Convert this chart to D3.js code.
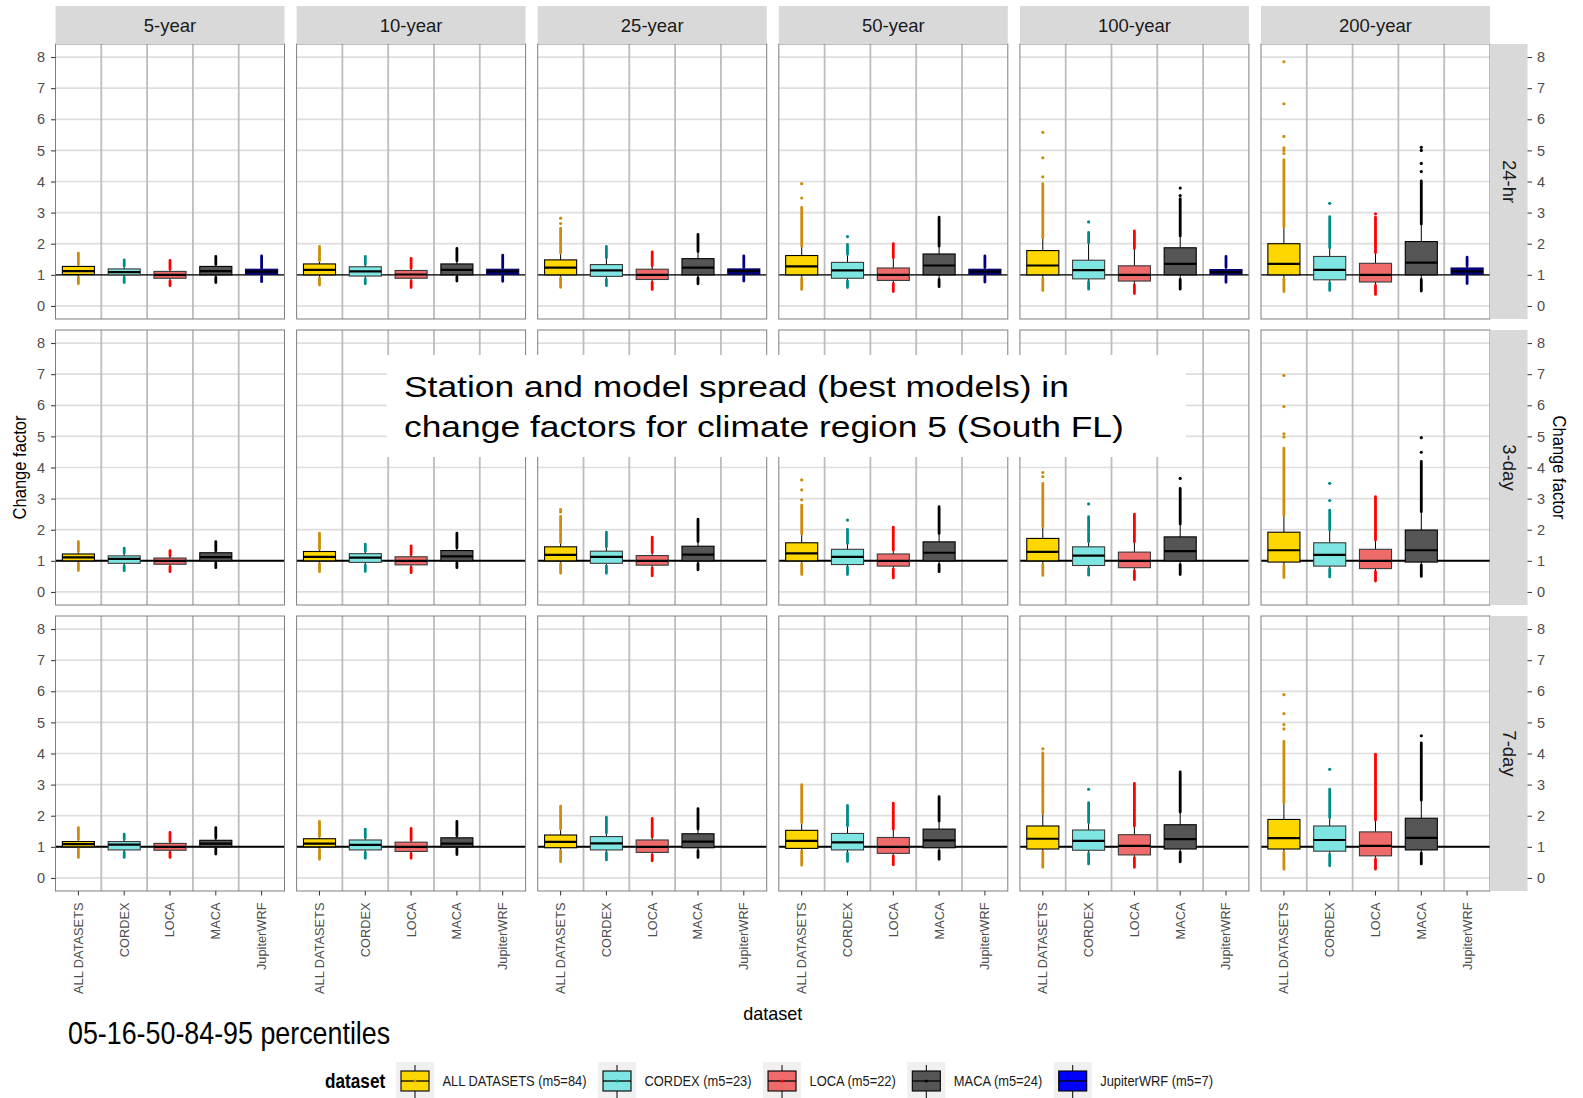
<!DOCTYPE html>
<html>
<head>
<meta charset="utf-8">
<script src="https://cdn.jsdelivr.net/npm/d3@7"></script>
<style>
  body { margin: 0; background: #fff; }
</style>
</head>
<body>
<div id="chart"></div>
<script>
// facets and categories
const periods = ["5-year", "10-year", "25-year", "50-year", "100-year", "200-year"];
const durations = ["24-hr", "3-day", "7-day"];
const datasets = ["ALL DATASETS", "CORDEX", "LOCA", "MACA", "JupiterWRF"];
const legendLabels = ["ALL DATASETS (m5=84)", "CORDEX (m5=23)", "LOCA (m5=22)", "MACA (m5=24)", "JupiterWRF (m5=7)"];
const yTicks = [0, 1, 2, 3, 4, 5, 6, 7, 8];

const boxFills = ["#FFD700", "#7EE5E3", "#EF6B6B", "#555555", "#00008B"];
const keyFills = ["#FFD700", "#7EE5E3", "#EF6B6B", "#555555", "#0000FF"];
const pointCols = ["#CD8C0C", "#008B8B", "#FF0000", "#000000", "#000080"];
const edgeCols = ["#000000", "#3a3a3a", "#3a3a3a", "#000000", "#000060"];

// period, dataset, min, p05, p16, p50, p84, p95, top of dense outlier run
const stats24hr = [
  ["5-year", "ALL DATASETS", 0.71, 0.92, 1.01, 1.12, 1.27, 1.34, 1.70],
  ["5-year", "CORDEX", 0.75, 0.92, 1.00, 1.09, 1.19, 1.28, 1.48],
  ["5-year", "LOCA", 0.65, 0.80, 0.89, 1.00, 1.11, 1.18, 1.46],
  ["5-year", "MACA", 0.75, 0.92, 1.00, 1.12, 1.27, 1.33, 1.59],
  ["5-year", "JupiterWRF", 0.78, 0.95, 1.02, 1.10, 1.18, 1.22, 1.61],
  ["10-year", "ALL DATASETS", 0.67, 0.90, 1.00, 1.16, 1.35, 1.45, 1.91],
  ["10-year", "CORDEX", 0.71, 0.86, 0.96, 1.11, 1.26, 1.34, 1.59],
  ["10-year", "LOCA", 0.59, 0.80, 0.89, 1.01, 1.14, 1.22, 1.53],
  ["10-year", "MACA", 0.80, 0.93, 1.00, 1.16, 1.35, 1.45, 1.85],
  ["10-year", "JupiterWRF", 0.79, 0.95, 1.02, 1.11, 1.18, 1.23, 1.63],
  ["25-year", "ALL DATASETS", 0.60, 0.90, 1.00, 1.23, 1.48, 1.70, 2.50],
  ["25-year", "CORDEX", 0.65, 0.85, 0.95, 1.14, 1.33, 1.55, 1.91],
  ["25-year", "LOCA", 0.53, 0.76, 0.85, 1.00, 1.18, 1.30, 1.74],
  ["25-year", "MACA", 0.71, 0.90, 1.00, 1.23, 1.52, 1.75, 2.30],
  ["25-year", "JupiterWRF", 0.80, 0.95, 1.02, 1.12, 1.19, 1.24, 1.61],
  ["50-year", "ALL DATASETS", 0.53, 0.89, 1.00, 1.27, 1.62, 1.92, 3.17],
  ["50-year", "CORDEX", 0.59, 0.80, 0.89, 1.14, 1.40, 1.65, 1.98],
  ["50-year", "LOCA", 0.46, 0.72, 0.82, 1.00, 1.22, 1.55, 2.00],
  ["50-year", "MACA", 0.62, 0.85, 1.00, 1.30, 1.67, 1.92, 2.85],
  ["50-year", "JupiterWRF", 0.77, 0.95, 1.02, 1.10, 1.18, 1.24, 1.61],
  ["100-year", "ALL DATASETS", 0.50, 0.88, 1.00, 1.30, 1.78, 2.20, 3.93],
  ["100-year", "CORDEX", 0.54, 0.78, 0.87, 1.15, 1.47, 2.03, 2.36],
  ["100-year", "LOCA", 0.40, 0.68, 0.80, 1.00, 1.29, 1.85, 2.41],
  ["100-year", "MACA", 0.54, 0.85, 1.00, 1.35, 1.87, 2.25, 3.45],
  ["100-year", "JupiterWRF", 0.76, 0.95, 1.02, 1.09, 1.17, 1.24, 1.59],
  ["200-year", "ALL DATASETS", 0.46, 0.88, 1.00, 1.35, 2.00, 2.54, 4.70],
  ["200-year", "CORDEX", 0.50, 0.74, 0.84, 1.16, 1.59, 1.87, 2.87],
  ["200-year", "LOCA", 0.37, 0.66, 0.77, 1.00, 1.37, 1.71, 2.85],
  ["200-year", "MACA", 0.48, 0.85, 1.00, 1.39, 2.07, 2.63, 4.02],
  ["200-year", "JupiterWRF", 0.72, 0.95, 1.02, 1.11, 1.22, 1.28, 1.57]
];

const stats3day = [
  ["5-year", "ALL DATASETS", 0.69, 0.92, 1.00, 1.11, 1.22, 1.30, 1.62],
  ["5-year", "CORDEX", 0.68, 0.84, 0.92, 1.06, 1.16, 1.24, 1.41],
  ["5-year", "LOCA", 0.65, 0.81, 0.89, 1.00, 1.09, 1.16, 1.33],
  ["5-year", "MACA", 0.78, 0.93, 1.00, 1.12, 1.26, 1.32, 1.62],
  ["10-year", "ALL DATASETS", 0.65, 0.91, 1.00, 1.13, 1.30, 1.38, 1.89],
  ["10-year", "CORDEX", 0.66, 0.86, 0.95, 1.10, 1.23, 1.31, 1.54],
  ["10-year", "LOCA", 0.62, 0.79, 0.87, 1.00, 1.13, 1.20, 1.48],
  ["10-year", "MACA", 0.78, 0.93, 1.00, 1.14, 1.33, 1.42, 1.89],
  ["25-year", "ALL DATASETS", 0.60, 0.90, 1.00, 1.19, 1.45, 1.59, 2.43],
  ["25-year", "CORDEX", 0.60, 0.83, 0.92, 1.13, 1.31, 1.45, 1.92],
  ["25-year", "LOCA", 0.52, 0.77, 0.86, 1.00, 1.17, 1.27, 1.76],
  ["25-year", "MACA", 0.71, 0.91, 1.00, 1.20, 1.47, 1.62, 2.34],
  ["50-year", "ALL DATASETS", 0.56, 0.90, 1.00, 1.24, 1.58, 1.86, 2.79],
  ["50-year", "CORDEX", 0.56, 0.80, 0.88, 1.13, 1.37, 1.56, 2.01],
  ["50-year", "LOCA", 0.45, 0.73, 0.83, 1.00, 1.22, 1.34, 2.08],
  ["50-year", "MACA", 0.65, 0.88, 1.00, 1.26, 1.61, 1.88, 2.74],
  ["100-year", "ALL DATASETS", 0.53, 0.88, 1.00, 1.29, 1.72, 2.10, 3.49],
  ["100-year", "CORDEX", 0.54, 0.76, 0.85, 1.17, 1.45, 1.61, 2.42],
  ["100-year", "LOCA", 0.40, 0.68, 0.78, 1.00, 1.28, 1.61, 2.50],
  ["100-year", "MACA", 0.56, 0.88, 1.00, 1.31, 1.77, 2.18, 3.33],
  ["200-year", "ALL DATASETS", 0.46, 0.86, 0.96, 1.34, 1.92, 2.46, 4.62],
  ["200-year", "CORDEX", 0.48, 0.74, 0.83, 1.19, 1.58, 1.99, 2.63],
  ["200-year", "LOCA", 0.35, 0.65, 0.75, 1.00, 1.37, 1.67, 3.06],
  ["200-year", "MACA", 0.50, 0.86, 0.96, 1.34, 1.99, 2.58, 4.20]
];

const stats7day = [
  ["5-year", "ALL DATASETS", 0.66, 0.93, 1.00, 1.09, 1.17, 1.24, 1.62],
  ["5-year", "CORDEX", 0.66, 0.82, 0.90, 1.07, 1.17, 1.24, 1.41],
  ["5-year", "LOCA", 0.66, 0.82, 0.89, 1.00, 1.11, 1.18, 1.46],
  ["5-year", "MACA", 0.77, 0.94, 1.00, 1.10, 1.21, 1.28, 1.62],
  ["10-year", "ALL DATASETS", 0.60, 0.92, 1.00, 1.10, 1.26, 1.33, 1.82],
  ["10-year", "CORDEX", 0.63, 0.82, 0.90, 1.06, 1.22, 1.30, 1.57],
  ["10-year", "LOCA", 0.63, 0.78, 0.85, 1.00, 1.15, 1.22, 1.59],
  ["10-year", "MACA", 0.75, 0.93, 1.00, 1.10, 1.29, 1.36, 1.82],
  ["25-year", "ALL DATASETS", 0.52, 0.88, 0.97, 1.16, 1.38, 1.57, 2.31],
  ["25-year", "CORDEX", 0.58, 0.81, 0.90, 1.11, 1.33, 1.45, 1.95],
  ["25-year", "LOCA", 0.55, 0.74, 0.82, 1.00, 1.22, 1.32, 1.91],
  ["25-year", "MACA", 0.66, 0.88, 0.97, 1.17, 1.42, 1.57, 2.23],
  ["50-year", "ALL DATASETS", 0.41, 0.86, 0.95, 1.19, 1.53, 1.78, 3.00],
  ["50-year", "CORDEX", 0.53, 0.80, 0.90, 1.14, 1.43, 1.67, 2.33],
  ["50-year", "LOCA", 0.42, 0.70, 0.79, 1.00, 1.30, 1.57, 2.40],
  ["50-year", "MACA", 0.60, 0.87, 0.97, 1.21, 1.57, 1.83, 2.61],
  ["100-year", "ALL DATASETS", 0.34, 0.84, 0.93, 1.26, 1.67, 2.08, 4.02],
  ["100-year", "CORDEX", 0.45, 0.79, 0.89, 1.19, 1.54, 1.78, 2.42],
  ["100-year", "LOCA", 0.34, 0.64, 0.74, 1.03, 1.39, 1.67, 3.04],
  ["100-year", "MACA", 0.52, 0.83, 0.93, 1.25, 1.71, 2.12, 3.41],
  ["200-year", "ALL DATASETS", 0.28, 0.83, 0.93, 1.28, 1.88, 2.42, 4.39],
  ["200-year", "CORDEX", 0.39, 0.76, 0.86, 1.22, 1.67, 1.94, 2.85],
  ["200-year", "LOCA", 0.28, 0.61, 0.71, 1.03, 1.48, 1.86, 3.91],
  ["200-year", "MACA", 0.45, 0.80, 0.90, 1.29, 1.92, 2.50, 4.34]
];

// isolated high outliers above the dense run
const extra24hr = [
  ["25-year", "ALL DATASETS", [2.65, 2.82]],
  ["50-year", "ALL DATASETS", [3.47, 3.93]],
  ["50-year", "CORDEX", [2.23]],
  ["100-year", "ALL DATASETS", [4.15, 4.76, 5.58]],
  ["100-year", "CORDEX", [2.70]],
  ["100-year", "MACA", [3.55, 3.79]],
  ["200-year", "ALL DATASETS", [4.90, 5.00, 5.08, 5.45, 6.50, 7.85]],
  ["200-year", "CORDEX", [3.30]],
  ["200-year", "LOCA", [2.96]],
  ["200-year", "MACA", [4.32, 4.58, 5.00, 5.10]]
];
const extra3day = [
  ["25-year", "ALL DATASETS", [2.57, 2.65]],
  ["50-year", "ALL DATASETS", [2.96, 3.28, 3.60]],
  ["50-year", "CORDEX", [2.31]],
  ["100-year", "ALL DATASETS", [3.71, 3.84]],
  ["100-year", "CORDEX", [2.83]],
  ["100-year", "MACA", [3.65]],
  ["200-year", "ALL DATASETS", [4.98, 5.08, 5.96, 6.96]],
  ["200-year", "CORDEX", [2.94, 3.49]],
  ["200-year", "MACA", [4.49, 4.96]]
];
const extra7day = [
  ["100-year", "ALL DATASETS", [4.15]],
  ["100-year", "CORDEX", [2.85]],
  ["200-year", "ALL DATASETS", [4.79, 4.93, 5.28, 5.89]],
  ["200-year", "CORDEX", [3.49]],
  ["200-year", "LOCA", [3.97]],
  ["200-year", "MACA", [4.57]]
];

const statTables = [stats24hr, stats3day, stats7day];
const extraTables = [extra24hr, extra3day, extra7day];

// layout
const FONT = "'Liberation Sans', Arial, sans-serif";
const panelW = 229, panelH = 275;
const left0 = 55.5, top0 = 44, colStep = 241.1, rowStep = 286;
const rightEdge = left0 + 5 * colStep + panelW;
const stripW = 37.5;

const svg = d3.select("#chart").append("svg")
  .attr("width", 1583)
  .attr("height", 1098)
  .style("font-family", FONT);

const x = d3.scaleBand().domain(datasets).range([0, panelW]);
const y = d3.scaleLinear().domain([-0.42, 8.42]).range([panelH, 0]);
const dsIdx = d => datasets.indexOf(d);
const cx = d => x(d) + x.bandwidth() / 2;
const bw = x.bandwidth() * 0.7;

// narrow-looking text: a regular face squeezed horizontally
function narrowText(parent, px, py, str, size, sx, rot) {
  return parent.append("text")
    .attr("transform", "translate(" + px + "," + py + ") rotate(" + (rot || 0) + ") scale(" + sx + ",1)")
    .attr("font-size", size)
    .text(str);
}

durations.forEach(function (dur, r) {
  var rows = statTables[r], extras = extraTables[r];
  periods.forEach(function (per, c) {
    var g = svg.append("g")
      .attr("transform", "translate(" + (left0 + c * colStep) + "," + (top0 + r * rowStep) + ")");

    g.append("rect").attr("width", panelW).attr("height", panelH).attr("fill", "#fff");

    // grid
    g.selectAll("hgrid").data(yTicks).enter().append("line")
      .attr("x1", 0).attr("x2", panelW)
      .attr("y1", d => y(d)).attr("y2", d => y(d))
      .attr("stroke", "#dedede").attr("stroke-width", 1.7);
    g.selectAll("vgrid").data(datasets.slice(1)).enter().append("line")
      .attr("x1", d => x(d)).attr("x2", d => x(d))
      .attr("y1", 0).attr("y2", panelH)
      .attr("stroke", "#bdbdbd").attr("stroke-width", 1.8);

    // reference line at 1
    g.append("line")
      .attr("x1", 0).attr("x2", panelW)
      .attr("y1", y(1)).attr("y2", y(1))
      .attr("stroke", "#000").attr("stroke-width", r === 0 ? 1.3 : 2);

    var boxes = rows.filter(d => d[0] === per);

    // whiskers
    g.selectAll("whisk").data(boxes).enter().append("path")
      .attr("d", d => "M" + cx(d[1]) + "," + y(d[6]) + "V" + y(d[7]) +
                      "M" + cx(d[1]) + "," + y(d[4]) + "V" + y(d[3]))
      .attr("stroke", "#000").attr("stroke-width", 1).attr("fill", "none");

    // dense outlier runs
    g.selectAll("runs").data(boxes).enter().append("path")
      .attr("d", d => "M" + cx(d[1]) + "," + y(d[7]) + "V" + y(d[8]) +
                      "M" + cx(d[1]) + "," + y(d[3]) + "V" + y(d[2]))
      .attr("stroke", d => pointCols[dsIdx(d[1])])
      .attr("stroke-width", 2.8).attr("stroke-linecap", "round").attr("fill", "none");

    // isolated outliers
    var pts = extras.filter(e => e[0] === per)
      .flatMap(e => e[2].map(v => ({ ds: e[1], v: v })));
    g.selectAll("pts").data(pts).enter().append("circle")
      .attr("cx", d => cx(d.ds)).attr("cy", d => y(d.v)).attr("r", 1.6)
      .attr("fill", d => pointCols[dsIdx(d.ds)]);

    // boxes
    g.selectAll("box").data(boxes).enter().append("rect")
      .attr("x", d => cx(d[1]) - bw / 2).attr("width", bw)
      .attr("y", d => y(d[6])).attr("height", d => y(d[4]) - y(d[6]))
      .attr("fill", d => boxFills[dsIdx(d[1])])
      .attr("stroke", d => edgeCols[dsIdx(d[1])]).attr("stroke-width", 1.1);

    // medians
    g.selectAll("med").data(boxes).enter().append("line")
      .attr("x1", d => cx(d[1]) - bw / 2).attr("x2", d => cx(d[1]) + bw / 2)
      .attr("y1", d => y(d[5])).attr("y2", d => y(d[5]))
      .attr("stroke", "#000").attr("stroke-width", 2.2);

    g.append("rect").attr("width", panelW).attr("height", panelH)
      .attr("fill", "none").attr("stroke", "#7f7f7f").attr("stroke-width", 1);

    // top strips
    if (r === 0) {
      svg.append("rect")
        .attr("x", left0 + c * colStep).attr("y", 6)
        .attr("width", panelW).attr("height", top0 - 6)
        .attr("fill", "#d9d9d9");
      svg.append("text")
        .attr("x", left0 + c * colStep + panelW / 2).attr("y", 32)
        .attr("text-anchor", "middle").attr("font-size", 18.5).attr("fill", "#1a1a1a")
        .text(per);
    }
  });

  var rowTop = top0 + r * rowStep;

  // right strip
  svg.append("rect")
    .attr("x", rightEdge).attr("y", rowTop)
    .attr("width", stripW).attr("height", panelH)
    .attr("fill", "#d9d9d9");
  svg.append("text")
    .attr("transform", "translate(" + (rightEdge + 13) + "," + (rowTop + panelH / 2) + ") rotate(90)")
    .attr("text-anchor", "middle").attr("font-size", 18.5).attr("fill", "#1a1a1a")
    .text(dur);

  // left axis
  var la = svg.append("g")
    .attr("transform", "translate(" + left0 + "," + rowTop + ")")
    .call(d3.axisLeft(y).tickValues(yTicks).tickSize(4.5).tickPadding(6));
  la.select(".domain").remove();
  la.selectAll("line").attr("stroke", "#333");
  la.selectAll("text").attr("font-family", FONT).attr("font-size", 14.5).attr("fill", "#4d4d4d");

  // right axis
  var ra = svg.append("g")
    .attr("transform", "translate(" + (rightEdge + stripW) + "," + rowTop + ")")
    .call(d3.axisRight(y).tickValues(yTicks).tickSize(4.5).tickPadding(5));
  ra.select(".domain").remove();
  ra.selectAll("line").attr("stroke", "#333");
  ra.selectAll("text").attr("font-family", FONT).attr("font-size", 14.5).attr("fill", "#4d4d4d");
});

// bottom axes
var bottomY = top0 + 2 * rowStep + panelH;
periods.forEach(function (per, c) {
  var ba = svg.append("g")
    .attr("transform", "translate(" + (left0 + c * colStep) + "," + bottomY + ")")
    .call(d3.axisBottom(x).tickSize(4.5));
  ba.select(".domain").remove();
  ba.selectAll("line").attr("stroke", "#333");
  ba.selectAll("text")
    .attr("font-family", FONT).attr("font-size", 12.8).attr("fill", "#4d4d4d")
    .attr("transform", "rotate(-90)")
    .attr("x", -11.5).attr("y", 0).attr("dy", "0.35em")
    .style("text-anchor", "end");
});

// axis titles
var midY = top0 + (2 * rowStep + panelH) / 2;
narrowText(svg, 26, midY, "Change factor", 18, 0.92, -90)
  .attr("text-anchor", "middle").attr("fill", "#000");
narrowText(svg, 1553, midY, "Change factor", 18, 0.92, 90)
  .attr("text-anchor", "middle").attr("fill", "#000");
narrowText(svg, (left0 + rightEdge) / 2, 1020, "dataset", 19, 0.95, 0)
  .attr("text-anchor", "middle").attr("fill", "#000");

// caption
narrowText(svg, 68, 1044, "05-16-50-84-95 percentiles", 30.5, 0.88, 0)
  .attr("fill", "#000");

// title box over the middle panels
svg.append("rect")
  .attr("x", 387).attr("y", 355).attr("width", 799).attr("height", 102)
  .attr("fill", "#fff");
var tt = svg.append("text")
  .attr("transform", "translate(404,0) scale(1.18,1)")
  .attr("font-size", 30).attr("fill", "#000");
tt.append("tspan").attr("x", 0).attr("y", 397).text("Station and model spread (best models) in");
tt.append("tspan").attr("x", 0).attr("y", 437).text("change factors for climate region 5 (South FL)");

// legend
var leg = svg.append("g");
narrowText(leg, 325, 1088, "dataset", 20, 0.86, 0)
  .attr("font-weight", "bold").attr("fill", "#000");
var kx = 396;
legendLabels.forEach(function (lab, i) {
  var k = leg.append("g").attr("transform", "translate(" + kx + ",1062)");
  k.append("rect").attr("width", 38).attr("height", 36).attr("fill", "#f0f0f0");
  k.append("line").attr("x1", 19).attr("x2", 19).attr("y1", 3).attr("y2", 36)
    .attr("stroke", "#000").attr("stroke-width", 1);
  k.append("rect").attr("x", 5).attr("y", 9).attr("width", 28).attr("height", 20)
    .attr("fill", keyFills[i]).attr("stroke", "#000").attr("stroke-width", 1.1);
  k.append("line").attr("x1", 5).attr("x2", 33).attr("y1", 19).attr("y2", 19)
    .attr("stroke", "#000").attr("stroke-width", 1.3);
  k.append("circle").attr("cx", 19).attr("cy", 19).attr("r", 1.5).attr("fill", pointCols[i]);
  var t = narrowText(leg, kx + 46.5, 1086, lab, 15, 0.86, 0).attr("fill", "#1a1a1a");
  kx = kx + 46.5 + t.node().getComputedTextLength() * 0.86 + 11.5;
});
</script>
</body>
</html>
